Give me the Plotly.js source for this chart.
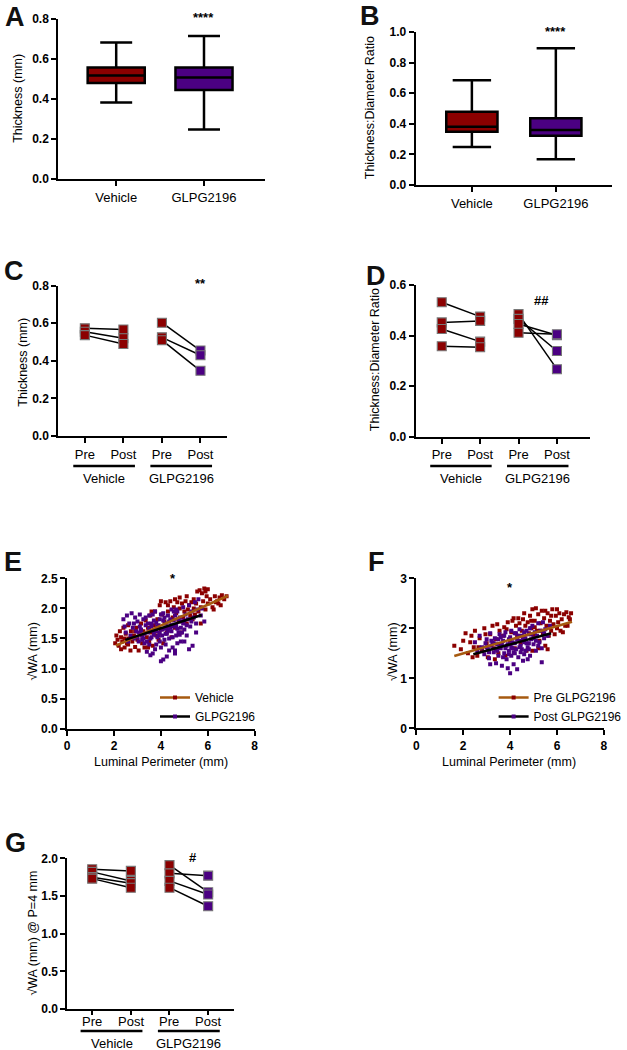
<!DOCTYPE html>
<html><head><meta charset="utf-8">
<script src="https://cdn.plot.ly/plotly-3.0.1.min.js"></script>
<style>html,body{margin:0;padding:0;background:#fff}#chart{width:627px;height:1050px}</style>
</head><body><div id="chart"></div>
<script>
// ---------- DATA ----------
const boxCats = ['Vehicle', 'GLPG2196'];
const boxPos = [0, 1];
// Panel A: Thickness (mm)
const aQ1 = [0.48, 0.445];
const aMedian = [0.517, 0.507];
const aQ3 = [0.558, 0.558];
const aLow = [0.383, 0.248];
const aHigh = [0.683, 0.715];
// Panel B: Thickness:Diameter Ratio
const bQ1 = [0.348, 0.322];
const bMedian = [0.381, 0.359];
const bQ3 = [0.479, 0.436];
const bLow = [0.248, 0.168];
const bHigh = [0.684, 0.893];

const pairCats = ['Pre', 'Post', 'Pre', 'Post'];
const pairPos = [0, 1, 2, 3];
const groupNames = ['Vehicle', 'GLPG2196'];
// Panel C: Thickness (mm)
const cVehPre = [0.573, 0.555, 0.537];
const cVehPost = [0.567, 0.52, 0.49];
const cGlpPre = [0.603, 0.525, 0.51];
const cGlpPost = [0.455, 0.43, 0.347];
// Panel D: Thickness:Diameter Ratio
const dVehPre = [0.532, 0.452, 0.426, 0.358];
const dVehPost = [0.475, 0.458, 0.376, 0.354];
const dGlpPre = [0.485, 0.466, 0.446, 0.411];
const dGlpPost = [0.267, 0.339, 0.401, 0.405];
// Panel G: sqrt(WA) @ P=4 mm
const gVehPre = [1.855, 1.82, 1.75, 1.73];
const gVehPost = [1.833, 1.70, 1.67, 1.61];
const gGlpPre = [1.91, 1.80, 1.70, 1.61];
const gGlpPost = [1.55, 1.77, 1.52, 1.364];

// Panel E: scatter Vehicle / GLPG2196
const eVehX = [2.05,2.1,2.15,2.2,2.25,2.3,2.35,2.4,2.45,2.5,2.55,2.6,2.62,2.7,2.72,2.78,2.85,2.9,2.95,3.0,
 3.05,3.1,3.15,3.2,3.25,3.3,3.35,3.4,3.45,3.5,3.55,3.6,3.65,3.7,3.75,3.8,3.85,3.9,3.95,4.0,
 4.05,4.1,4.15,4.2,4.25,4.3,4.35,4.4,4.45,4.5,4.55,4.6,4.65,4.7,4.75,4.8,4.85,4.9,4.95,5.0,
 5.05,5.1,5.15,5.2,5.25,5.3,5.35,5.4,5.45,5.5,5.55,5.6,5.65,5.7,5.75,5.8,5.85,5.9,5.95,6.0,
 6.1,6.2,6.3,6.35,6.4,6.5,6.55,6.6,6.7,6.8,6.0,5.7,6.25,
 2.3,2.6,2.9,3.2,3.6,4.0,4.3,4.6,5.1,5.4,2.45,3.45,5.9,6.45,4.8];
const eVehY = [1.42,1.55,1.48,1.38,1.62,1.52,1.45,1.68,1.35,1.58,1.42,1.72,1.5,1.3,1.62,1.45,1.55,1.36,1.68,1.48,
 1.3,1.58,1.75,1.42,1.62,1.35,1.8,1.52,1.68,1.45,1.88,1.6,1.38,1.72,1.95,1.55,1.82,1.48,2.05,1.65,
 1.9,1.42,1.78,2.1,1.6,1.95,1.7,2.12,1.52,1.85,2.02,1.68,1.92,2.1,1.78,2.0,1.6,2.08,1.85,1.95,
 2.12,1.75,1.98,2.05,1.88,2.1,1.82,2.0,1.9,2.08,2.28,1.95,2.3,2.02,2.25,2.12,2.33,1.98,2.2,2.08,
 2.15,2.02,2.2,2.1,2.12,2.18,2.05,2.22,2.15,2.2,2.32,1.75,1.98,
 1.32,1.4,1.62,1.55,1.95,2.12,2.05,2.15,2.2,2.15,1.5,1.35,2.28,2.08,2.18];
const eGlpX = [2.4,2.45,2.5,2.55,2.6,2.65,2.7,2.75,2.8,2.85,2.9,2.95,3.0,3.05,3.1,3.15,3.2,3.25,3.3,3.35,
 3.4,3.45,3.5,3.55,3.6,3.65,3.7,3.75,3.8,3.85,3.9,3.95,4.0,4.0,4.05,4.1,4.15,4.2,4.25,4.3,
 4.35,4.4,4.45,4.5,4.55,4.6,4.65,4.7,4.75,4.8,4.85,4.9,4.95,5.0,5.05,5.1,5.15,5.2,5.25,5.3,
 5.35,5.4,5.45,5.5,5.55,5.6,5.7,5.75,5.85,
 3.3,3.45,3.6,3.7,3.8,3.9,4.05,4.15,4.25,4.35,4.45,4.55,4.65,4.75,4.85,4.95,3.1,3.2,3.5,3.95,
 4.2,4.5,4.7,3.75,2.85,3.05,4.1,4.6,5.2,3.55,4.25,5.0,
 3.15,3.35,3.5,3.65,3.8,3.95,4.1,4.3,4.45,4.6,4.8,5.0,3.25,3.4,3.6,3.85,4.0,4.2,4.4,4.55,
 4.7,4.9,5.1,3.0,3.7,4.15,4.35,4.65,5.3,5.5];
const eGlpY = [1.82,1.7,1.6,1.88,1.45,1.75,1.55,1.92,1.68,1.5,1.85,1.62,1.78,1.45,1.9,1.65,1.55,1.82,1.42,1.72,
 1.28,1.6,1.88,1.5,1.75,1.25,1.62,1.95,1.4,1.7,1.55,1.82,1.35,1.12,1.65,1.92,1.48,1.75,1.58,1.88,
 1.3,1.68,1.98,1.52,1.8,1.25,1.72,1.95,1.6,1.85,1.45,1.78,2.02,1.65,1.9,1.55,1.82,2.05,1.7,1.95,
 1.38,1.85,2.1,1.75,1.98,2.15,1.88,2.0,1.78,
 1.58,1.75,1.52,1.8,1.62,1.72,1.55,1.85,1.68,1.78,1.62,1.7,1.55,1.82,1.68,1.75,1.7,1.48,1.4,1.45,
 1.4,1.35,1.42,1.32,1.75,1.6,1.15,1.3,1.32,1.22,1.2,1.45,
 1.62,1.85,1.66,1.9,1.76,1.6,1.8,1.63,1.72,1.88,1.56,1.8,1.5,1.45,1.7,1.52,1.9,1.58,1.82,1.95,
 1.66,1.6,1.72,1.52,1.56,1.66,1.5,1.98,1.78,1.6];
const eVehFitX = [2.08, 6.86], eVehFitY = [1.38, 2.21];
const eGlpFitX = [2.48, 5.74], eGlpFitY = [1.476, 1.89];

// Panel F: scatter Pre / Post GLPG2196
const fPreX = [1.62,1.9,2.1,2.2,2.3,2.45,2.5,2.6,2.7,2.8,2.9,3.0,3.05,3.15,3.25,3.3,3.4,3.5,3.55,3.6,
 3.7,3.8,3.9,4.0,4.05,4.1,4.2,4.25,4.3,4.4,4.45,4.5,4.55,4.6,4.65,4.7,4.75,4.8,4.85,4.9,
 4.95,5.0,5.05,5.1,5.15,5.2,5.25,5.3,5.35,5.4,5.45,5.5,5.55,5.6,5.65,5.7,5.75,5.8,5.85,5.9,
 5.95,6.0,6.1,6.15,6.2,6.3,6.35,6.4,6.5,6.6,6.25,5.2,4.95,5.6,3.35,2.4,6.05,4.35,3.75,4.15,
 2.0,2.35,2.65,2.95,3.45,3.85,4.6,4.9,5.3,5.5,5.75,6.0,6.45,6.55,5.05];
const fPreY = [1.65,1.58,1.9,1.5,1.72,1.62,1.95,1.45,1.8,1.55,2.0,1.7,1.42,1.88,2.05,1.6,1.78,1.5,1.95,1.68,
 1.85,1.45,2.12,1.75,1.92,2.15,1.6,2.05,1.85,2.1,1.7,1.95,2.18,1.8,2.05,1.55,2.12,1.9,2.25,2.0,
 2.38,1.85,2.15,2.4,1.95,2.28,1.75,2.1,2.35,1.9,2.2,1.65,2.05,2.3,1.85,2.15,1.95,2.38,2.08,1.88,
 2.25,2.0,2.3,1.95,2.18,2.28,2.05,2.32,2.22,2.3,1.92,1.6,1.55,1.58,1.38,1.42,2.12,2.2,2.02,2.2,
 1.75,1.85,1.62,1.88,2.08,1.98,2.3,2.15,1.95,2.35,2.25,2.38,2.05,2.18,2.02];
const fPostX = [2.5,2.6,2.7,2.8,2.9,3.0,3.05,3.1,3.15,3.2,3.3,3.35,3.4,3.45,3.5,3.55,3.6,3.65,3.7,3.75,
 3.8,3.85,3.9,3.95,4.0,4.0,4.05,4.1,4.15,4.2,4.25,4.3,4.35,4.4,4.45,4.5,4.55,4.6,4.65,4.7,
 4.75,4.8,4.85,4.9,4.95,5.0,5.05,5.1,5.15,5.2,5.25,5.3,5.35,5.4,5.45,5.5,5.6,5.7,
 3.25,3.55,3.7,3.95,4.05,4.2,4.35,4.5,4.65,4.8,3.45,3.85,4.15,4.4,4.6,4.75,3.15,3.9,4.3,2.95,
 3.0,3.2,3.4,3.6,3.8,4.0,4.2,4.4,4.6,4.8,5.0,5.2,3.3,3.5,3.75,4.1,4.25,4.45,4.7,4.9,
 5.1,5.35,3.1,3.65,4.05,4.55,5.45,2.75,3.95,4.85];
const fPostY = [1.72,1.55,1.85,1.62,1.48,1.78,1.58,1.4,1.9,1.65,1.52,1.8,1.3,1.68,1.45,1.88,1.6,1.25,1.75,1.5,
 1.92,1.38,1.68,1.55,1.82,1.1,1.45,1.72,1.28,1.9,1.58,1.78,1.42,1.98,1.65,1.85,1.35,1.72,1.55,1.95,
 1.62,1.88,1.45,1.78,2.05,1.68,1.92,1.55,1.85,2.1,1.72,1.95,1.32,2.12,1.8,1.98,1.85,2.05,
 1.72,1.62,1.42,1.78,1.62,1.7,1.85,1.58,1.8,1.7,1.55,1.65,1.52,1.62,1.48,1.38,1.28,1.2,1.18,1.7,
 1.62,1.75,1.58,1.82,1.6,1.68,1.5,1.75,1.92,1.58,1.8,1.65,1.7,1.78,1.85,1.6,1.9,1.52,1.7,1.88,
 1.75,1.6,1.52,1.68,1.95,1.8,1.9,1.6,1.48,2.0];
const fPreFitX = [1.62, 6.64], fPreFitY = [1.446, 2.13];
const fPostFitX = [2.43, 5.75], fPostFitY = [1.48, 1.9];

// ---------- STYLE / LAYOUT ----------
const FONT = '"Liberation Sans", Arial, Helvetica, sans-serif';
const RED = '#8b0000', PUR = '#4b0082', BROWN = '#a65a10';
const W = 627, H = 1050;
const dX = (a, b) => [a / W, b / W];
const dY = (t, b) => [1 - b / H, 1 - t / H];
const numFont = {family: FONT, size: 12, color: '#000', weight: 'bold'};
const catFont = {family: FONT, size: 13, color: '#000'};

function ax(extra) {
  return Object.assign({showgrid: false, zeroline: false, showline: true, linecolor: '#000', linewidth: 2,
    ticks: 'outside', ticklen: 5, tickwidth: 2, tickcolor: '#000', tickfont: numFont, fixedrange: true}, extra);
}

const traces = [];
function boxes(xa, ya, q1, med, q3, lo, hi, width, ww) {
  const cols = [RED, PUR];
  boxPos.forEach((p, i) => {
    traces.push({type: 'box', x: [p], q1: [q1[i]], median: [med[i]], q3: [q3[i]], lowerfence: [lo[i]], upperfence: [hi[i]],
      fillcolor: cols[i], line: {color: '#000', width: 2.5}, width: width, whiskerwidth: ww, boxpoints: false,
      xaxis: xa, yaxis: ya, showlegend: false, hoverinfo: 'skip', name: boxCats[i]});
  });
}
boxes('x', 'y', aQ1, aMedian, aQ3, aLow, aHigh, 0.65, 0.56);
boxes('x2', 'y2', bQ1, bMedian, bQ3, bLow, bHigh, 0.61, 0.75);

function paired(xa, ya, pre, post, x0, x1, colPost) {
  pre.forEach((v, i) => {
    traces.push({type: 'scatter', mode: 'lines', x: [pairPos[x0], pairPos[x1]], y: [v, post[i]],
      line: {color: '#000', width: 1.5}, xaxis: xa, yaxis: ya, showlegend: false, hoverinfo: 'skip'});
  });
  const mk = c => ({symbol: 'square', size: 9, color: c, line: {color: '#777', width: 1.1}});
  traces.push({type: 'scatter', mode: 'markers', x: pre.map(() => pairPos[x0]), y: pre, marker: mk(RED),
    xaxis: xa, yaxis: ya, showlegend: false, hoverinfo: 'skip'});
  traces.push({type: 'scatter', mode: 'markers', x: post.map(() => pairPos[x1]), y: post, marker: mk(colPost),
    xaxis: xa, yaxis: ya, showlegend: false, hoverinfo: 'skip'});
}
paired('x3', 'y3', cVehPre, cVehPost, 0, 1, RED);
paired('x3', 'y3', cGlpPre, cGlpPost, 2, 3, PUR);
paired('x4', 'y4', dVehPre, dVehPost, 0, 1, RED);
paired('x4', 'y4', dGlpPre, dGlpPost, 2, 3, PUR);
paired('x7', 'y7', gVehPre, gVehPost, 0, 1, RED);
paired('x7', 'y7', gGlpPre, gGlpPost, 2, 3, PUR);

function scat(xa, ya, xs, ys, c) {
  traces.push({type: 'scatter', mode: 'markers', x: xs, y: ys, marker: {symbol: 'square', size: 4, color: c},
    xaxis: xa, yaxis: ya, showlegend: false, hoverinfo: 'skip'});
}
function fit(xa, ya, xs, ys, c) {
  traces.push({type: 'scatter', mode: 'lines', x: xs, y: ys, line: {color: c, width: 2.5},
    xaxis: xa, yaxis: ya, showlegend: false, hoverinfo: 'skip'});
}
function legItem(xa, ya, name, lc, mc, leg) {
  traces.push({type: 'scatter', mode: 'lines+markers', x: [null], y: [null], name: name,
    line: {color: lc, width: 2.5}, marker: {symbol: 'square', size: 4, color: mc},
    xaxis: xa, yaxis: ya, showlegend: true, legend: leg, hoverinfo: 'skip'});
}
scat('x5', 'y5', eVehX, eVehY, RED);
scat('x5', 'y5', eGlpX, eGlpY, PUR);
fit('x5', 'y5', eVehFitX, eVehFitY, BROWN);
fit('x5', 'y5', eGlpFitX, eGlpFitY, '#000');
legItem('x5', 'y5', 'Vehicle', BROWN, RED, 'legend');
legItem('x5', 'y5', 'GLPG2196', '#000', PUR, 'legend');
scat('x6', 'y6', fPreX, fPreY, RED);
scat('x6', 'y6', fPostX, fPostY, PUR);
fit('x6', 'y6', fPreFitX, fPreFitY, BROWN);
fit('x6', 'y6', fPostFitX, fPostFitY, '#000');
legItem('x6', 'y6', 'Pre GLPG2196', BROWN, RED, 'legend2');
legItem('x6', 'y6', 'Post GLPG2196', '#000', PUR, 'legend2');

// annotations & shapes
const ann = [], shapes = [];
function txt(t, xp, yp, o) {
  ann.push(Object.assign({text: t, x: xp / W, y: 1 - yp / H, xref: 'paper', yref: 'paper', showarrow: false,
    xanchor: 'center', yanchor: 'middle', font: {family: FONT, size: 13, color: '#000'}}, o || {}));
}
function dataTxt(t, xa, xv, yp, o) {
  ann.push(Object.assign({text: t, x: xv, y: 1 - yp / H, xref: xa, yref: 'paper', showarrow: false,
    xanchor: 'center', yanchor: 'middle', font: {family: FONT, size: 13, color: '#000'}}, o || {}));
}
const letterFont = {family: FONT, size: 27, color: '#111', weight: 'bold'};
txt('A', 15, 17, {font: letterFont});
txt('B', 375, 16, {font: letterFont});
txt('C', 14, 271, {font: letterFont});
txt('D', 381, 276, {font: letterFont});
txt('E', 13, 562, {font: letterFont});
txt('F', 381, 562, {font: letterFont});
txt('G', 16, 843, {font: letterFont});

const titleFont = {family: FONT, size: 12.5, color: '#000'};
txt('Thickness (mm)', 18, 98, {textangle: -90, font: titleFont});
txt('Thickness:Diameter Ratio', 375, 108, {textangle: -90, font: titleFont});
txt('Thickness (mm)', 23, 362, {textangle: -90, font: titleFont});
txt('Thickness:Diameter Ratio', 380, 360, {textangle: -90, font: titleFont});
txt('√WA (mm)', 33, 652, {textangle: -90, font: titleFont});
txt('√WA (mm)', 398, 652, {textangle: -90, font: titleFont});
txt('√WA (mm) @ P=4 mm', 33, 933, {textangle: -90, font: titleFont});
txt('Luminal Perimeter (mm)', 163, 762, {font: titleFont});
txt('Luminal Perimeter (mm)', 516, 762, {font: titleFont});

const sigFont = {family: FONT, size: 13, color: '#000', weight: 'bold'};
dataTxt('****', 'x', boxPos[1], 18, {font: sigFont});
dataTxt('****', 'x2', boxPos[1], 32, {font: sigFont});
dataTxt('**', 'x3', pairPos[3], 283, {font: sigFont});
dataTxt('##', 'x4', 2.6, 300, {font: sigFont});
dataTxt('*', 'x5', 4.5, 578, {font: sigFont});
dataTxt('*', 'x6', 4.0, 587, {font: sigFont});
dataTxt('#', 'x7', 2.6, 857, {font: sigFont});

function groups(xa, lineY, labelY) {
  [[-0.3, 1.3], [1.7, 3.3]].forEach((r, i) => {
    shapes.push({type: 'line', xref: xa, yref: 'paper', x0: r[0], x1: r[1], y0: 1 - lineY / H, y1: 1 - lineY / H,
      line: {color: '#000', width: 2.5}});
    dataTxt(groupNames[i], xa, (r[0] + r[1]) / 2, labelY, {font: catFont});
  });
}
groups('x3', 466, 478);
groups('x4', 466, 478);
groups('x7', 1031, 1043);
// G category labels sit closer to the axis than Plotly tick labels would
pairPos.forEach((p, i) => dataTxt(pairCats[i], 'x7', p, 1021, {font: catFont}));

const legBase = {xanchor: 'left', yanchor: 'top', font: {family: FONT, size: 12, color: '#000'},
  bgcolor: 'rgba(0,0,0,0)', itemwidth: 30, tracegroupgap: 0};

const layout = {
  width: W, height: H, margin: {l: 0, r: 0, t: 0, b: 0}, paper_bgcolor: '#fff', plot_bgcolor: 'rgba(0,0,0,0)',
  showlegend: true, boxmode: 'overlay',
  legend: Object.assign({x: 157 / W, y: 1 - 683 / H}, legBase),
  legend2: Object.assign({x: 500 / W, y: 1 - 683 / H}, legBase),
  xaxis: ax({domain: dX(59, 268), range: [-0.66, 1.69], tickvals: boxPos, ticktext: boxCats, tickfont: catFont, anchor: 'y'}),
  yaxis: ax({domain: dY(19, 179), range: [0, 0.8], dtick: 0.2, tickformat: '.1f', anchor: 'x'}),
  xaxis2: ax({domain: dX(421, 620), range: [-0.67, 1.67], tickvals: boxPos, ticktext: boxCats, tickfont: catFont, anchor: 'y2'}),
  yaxis2: ax({domain: dY(32, 185), range: [0, 1.0], dtick: 0.2, tickformat: '.1f', anchor: 'x2'}),
  xaxis3: ax({domain: dX(59, 230), range: [-0.69, 3.69], tickvals: pairPos, ticktext: pairCats, tickfont: catFont, anchor: 'y3'}),
  yaxis3: ax({domain: dY(285.7, 436), range: [0, 0.8], dtick: 0.2, tickformat: '.1f', anchor: 'x3'}),
  xaxis4: ax({domain: dX(421, 598), range: [-0.68, 3.87], tickvals: pairPos, ticktext: pairCats, tickfont: catFont, anchor: 'y4'}),
  yaxis4: ax({domain: dY(285, 436.7), range: [0, 0.6], dtick: 0.2, tickformat: '.1f', anchor: 'x4'}),
  xaxis5: ax({domain: dX(68, 258), range: [0, 8], dtick: 2, anchor: 'y5'}),
  yaxis5: ax({domain: dY(578.3, 728.7), range: [0, 2.5], dtick: 0.5, tickformat: '.1f', anchor: 'x5'}),
  xaxis6: ax({domain: dX(421.7, 611.7), range: [0, 8], dtick: 2, anchor: 'y6'}),
  yaxis6: ax({domain: dY(578.3, 728.3), range: [0, 3], dtick: 1, anchor: 'x6'}),
  xaxis7: ax({domain: dX(68.3, 236.7), range: [-0.64, 3.66], tickvals: pairPos, showticklabels: false, ticklen: 4, anchor: 'y7'}),
  yaxis7: ax({domain: dY(858.3, 1009), range: [0, 2], dtick: 0.5, tickformat: '.1f', anchor: 'x7'}),
  annotations: ann, shapes: shapes
};

Plotly.newPlot('chart', traces, layout, {staticPlot: true, displayModeBar: false});
</script></body></html>
